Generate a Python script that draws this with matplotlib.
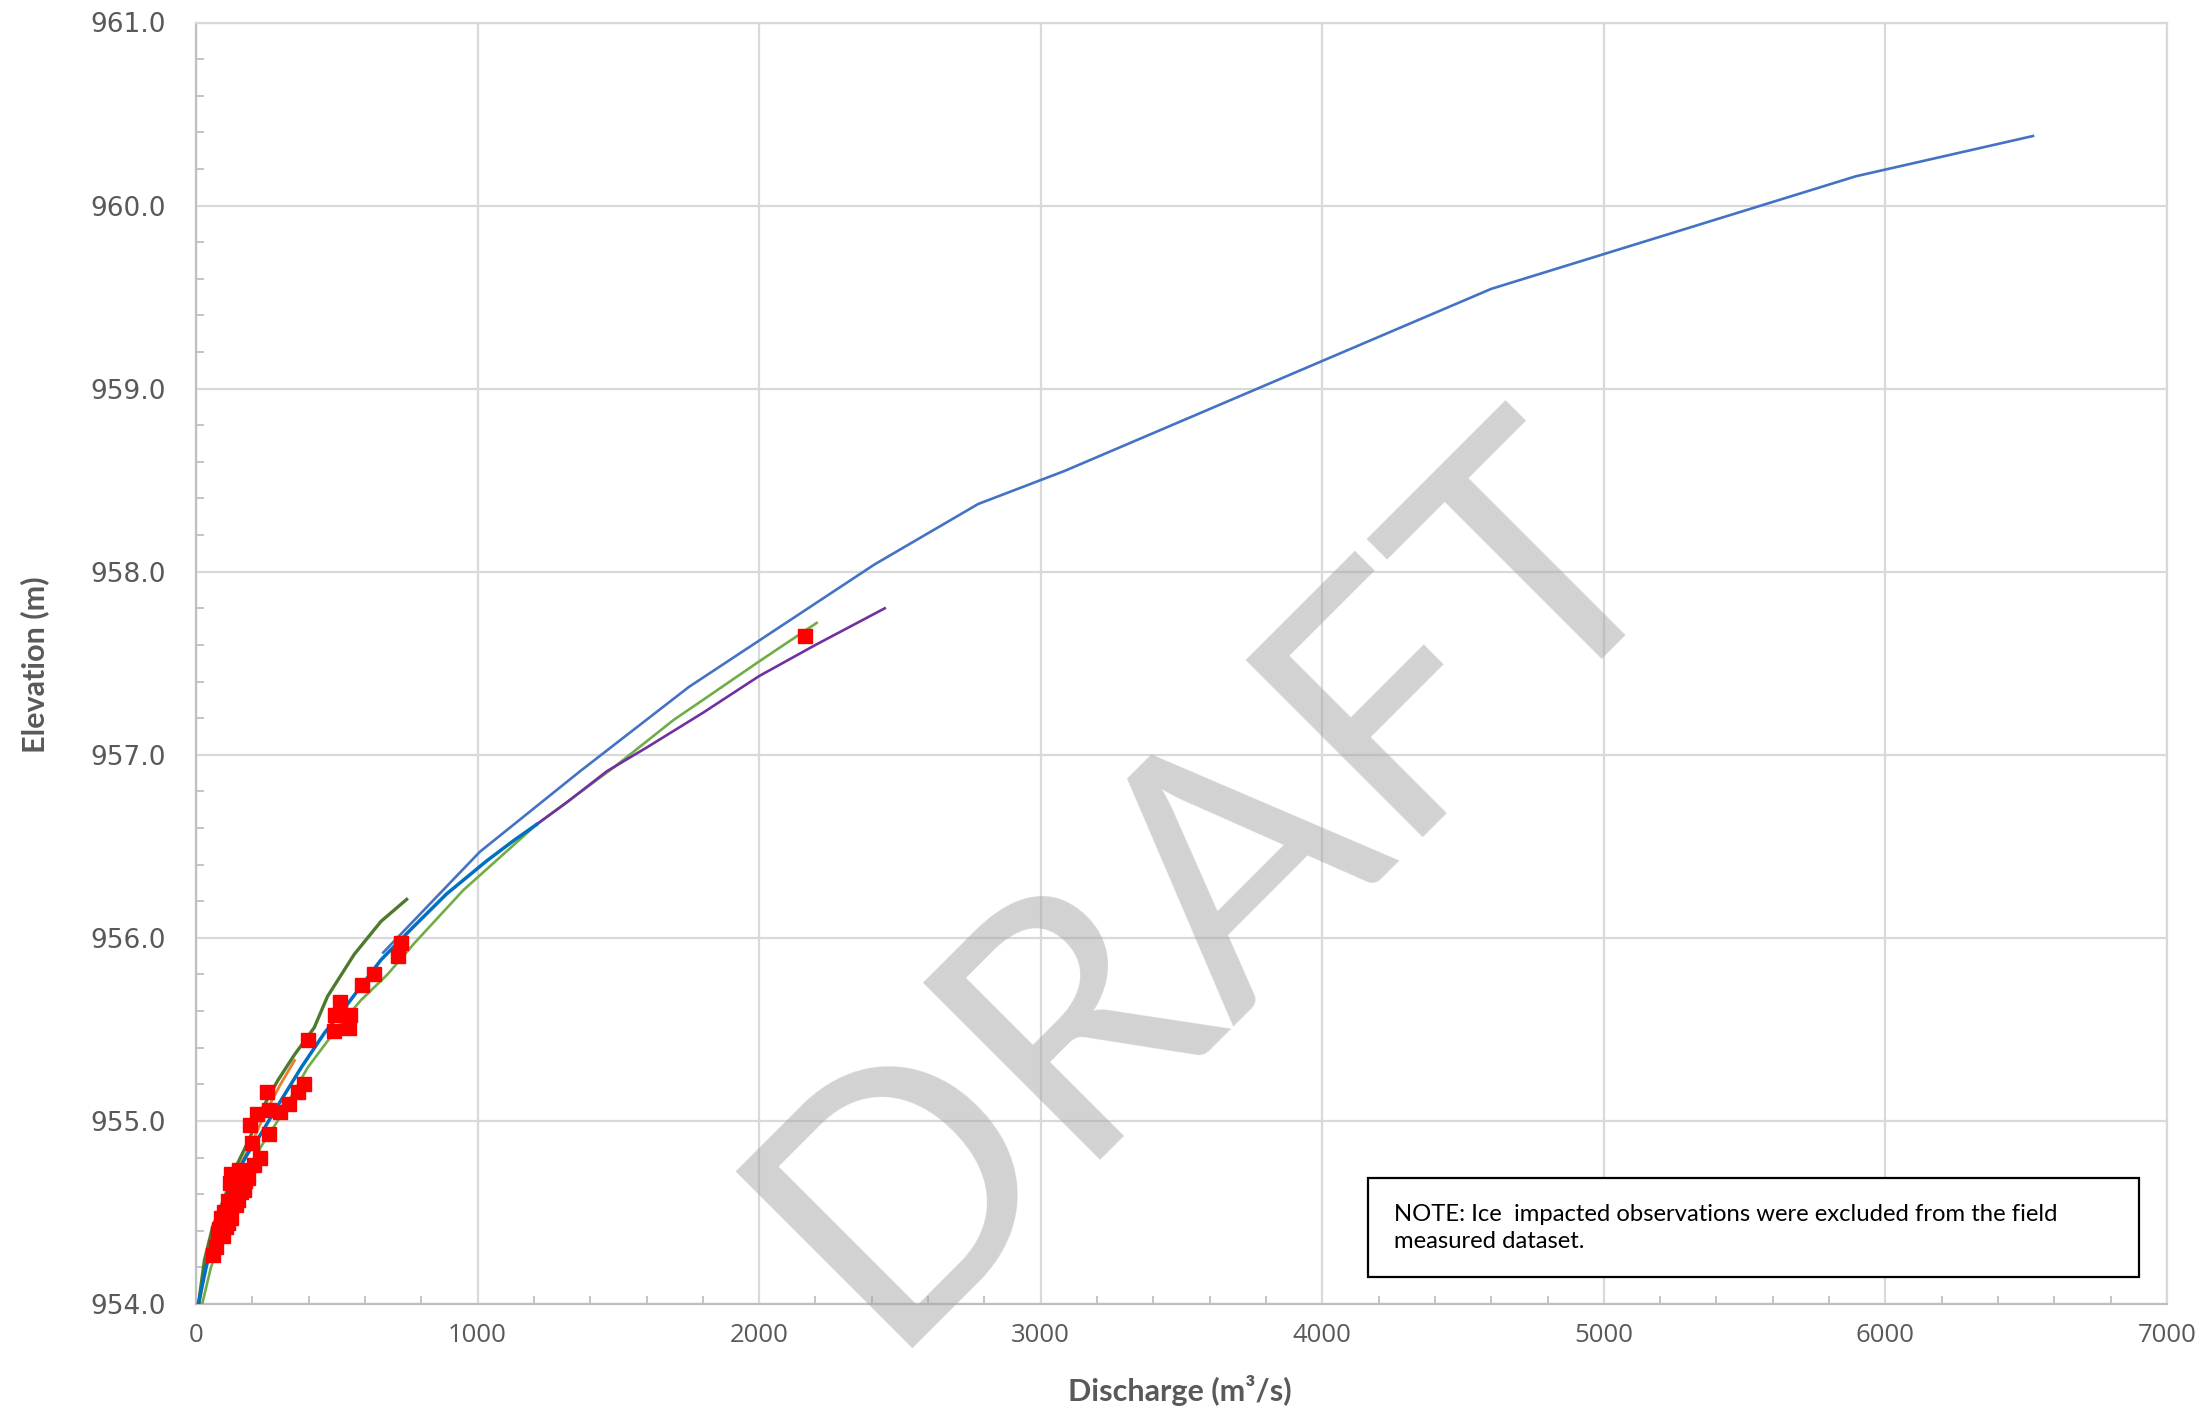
import numpy as np
import matplotlib
matplotlib.use("Agg")
import matplotlib.pyplot as plt
from matplotlib.ticker import AutoMinorLocator
from matplotlib.patches import Rectangle

# ---------------- data ----------------
x_ticks = [0, 1000, 2000, 3000, 4000, 5000, 6000, 7000]
y_ticks = [954.0, 955.0, 956.0, 957.0, 958.0, 959.0, 960.0, 961.0]

# long rating curve (light blue)
curve1_q = [665, 1008, 1364, 1750, 2410, 2778, 3084, 4600, 5895, 6524]
curve1_e = [955.92, 956.47, 956.91, 957.37, 958.04, 958.37, 958.55, 959.545, 960.16, 960.38]

# dark blue curve
curve2_q = [8, 36, 65, 101, 136, 183, 231, 285, 373, 456, 539, 657, 772, 890, 1032, 1127, 1210]
curve2_e = [954.0, 954.20, 954.38, 954.56, 954.69, 954.82, 954.93, 955.07, 955.29, 955.48,
            955.64, 955.88, 956.06, 956.24, 956.42, 956.53, 956.62]

# purple curve
curve3_q = [1210, 1317, 1459, 1601, 1801, 2000, 2200, 2446]
curve3_e = [956.62, 956.74, 956.91, 957.04, 957.23, 957.43, 957.60, 957.80]

# light green curve
curve4_q = [22, 53, 95, 136, 183, 231, 290, 396, 503, 586, 680, 775, 949, 1210, 1483, 1696, 1801, 2000, 2204]
curve4_e = [954.0, 954.2, 954.38, 954.56, 954.71, 954.86, 955.0, 955.29, 955.51, 955.66, 955.80,
            955.97, 956.26, 956.62, 956.93, 957.19, 957.30, 957.51, 957.72]

# orange curve (mostly hidden)
curve5_q = [12, 33, 63, 106, 150, 195, 245, 300, 350]
curve5_e = [954.0, 954.2, 954.4, 954.58, 954.74, 954.87, 955.04, 955.20, 955.33]

# dark green curve
curve6_q = [10, 15, 30, 59, 101, 142, 183, 240, 290, 349, 420, 467, 562, 657, 748]
curve6_e = [954.0, 954.07, 954.24, 954.42, 954.58, 954.75, 954.88, 955.08, 955.22, 955.36,
            955.51, 955.68, 955.91, 956.09, 956.21]

# field measurements (red squares)
obs_q = [728, 718, 633, 589, 511, 494, 547, 489, 542, 399, 382, 361, 329, 298, 260, 252,
         217, 192, 258, 199, 227, 207, 184, 124, 154, 160, 136, 142, 113, 107, 89, 113,
         77, 95, 71, 59, 120, 145, 175, 170, 150, 100, 125, 105, 82, 2163]
obs_e = [955.97, 955.90, 955.80, 955.74, 955.65, 955.58, 955.58, 955.49, 955.51, 955.44,
         955.20, 955.16, 955.09, 955.05, 955.06, 955.16, 955.04, 954.98, 954.93, 954.88,
         954.80, 954.76, 954.69, 954.71, 954.73, 954.61, 954.59, 954.54, 954.56, 954.49,
         954.47, 954.44, 954.39, 954.37, 954.31, 954.27, 954.66, 954.70, 954.67, 954.62,
         954.57, 954.50, 954.47, 954.42, 954.41, 957.65]

note_text = "NOTE: Ice  impacted observations were excluded from the field\nmeasured dataset."

# ---------------- figure ----------------
W, H = 2210, 1413
fig = plt.figure(figsize=(W / 100, H / 100), dpi=100)
ax = fig.add_axes([196 / W, 1 - 1304 / H, 1971 / W, 1281.5 / H])

ax.set_xlim(0, 7000)
ax.set_ylim(954, 961)
ax.set_xticks(x_ticks)
ax.set_xticklabels([str(v) for v in x_ticks])
ax.set_yticks(y_ticks)
ax.set_yticklabels([f"{v:.1f}" for v in y_ticks])
ax.xaxis.set_minor_locator(AutoMinorLocator(5))
ax.yaxis.set_minor_locator(AutoMinorLocator(5))

ax.grid(which="major", color="#D9D9D9", lw=1.6, zorder=0)
ax.set_axisbelow(True)
ax.tick_params(which="major", length=0)
ax.tick_params(axis="y", which="major", pad=22, labelsize=19, labelcolor="#595959")
ax.tick_params(axis="x", which="major", pad=14, labelsize=18.5, labelcolor="#595959")
ax.tick_params(which="minor", direction="in", length=6, width=1.3, color="#BFBFBF")
for lab in ax.get_yticklabels():
    lab.set_family("DejaVu Sans")
for lab in ax.get_xticklabels():
    lab.set_family("Open Sans")

for s in ["left", "bottom"]:
    ax.spines[s].set_color("#BFBFBF")
    ax.spines[s].set_linewidth(1.6)
for s in ["top", "right"]:
    ax.spines[s].set_color("#D9D9D9")
    ax.spines[s].set_linewidth(1.6)

# curves
ax.plot(curve5_q, curve5_e, color="#ED7D31", lw=2.0, zorder=3)
ax.plot(curve6_q, curve6_e, color="#4E7A2E", lw=2.4, zorder=4)
ax.plot(curve4_q, curve4_e, color="#70AD47", lw=1.9, zorder=4)
ax.plot(curve3_q, curve3_e, color="#7030A0", lw=1.9, zorder=4)
ax.plot(curve2_q, curve2_e, color="#0070C0", lw=2.5, zorder=5)
ax.plot(curve1_q, curve1_e, color="#4472C4", lw=1.9, zorder=5)
ax.plot(obs_q, obs_e, linestyle="none", marker="s", markersize=9.5,
        color="#FF0000", zorder=6)

# axis titles
ax.set_xlabel("Discharge (m³/s)", fontsize=22, fontweight="bold", color="#595959",
              family=["Lato", "DejaVu Sans"], va="center")
ax.xaxis.set_label_coords((1180 - 196) / 1971, (1304 - 1391) / 1281.5)
ax.set_ylabel("Elevation (m)", fontsize=22, fontweight="bold", color="#595959",
              family="Lato", va="center")
ax.yaxis.set_label_coords((35 - 196) / 1971, (1304 - 665) / 1281.5)

# note box
fig.add_artist(Rectangle((1368 / W, 1 - 1277 / H), (2139 - 1368) / W, 99 / H,
                         transform=fig.transFigure, facecolor="white",
                         edgecolor="black", lw=1.6, zorder=10))
fig.text(1394 / W, 1 - 1228 / H, note_text, fontsize=17.2, family="Lato",
         color="black", ha="left", va="center", linespacing=1.3, zorder=11)

# watermark
fig.text(1279 / W, 1 - 950 / H, "DRAFT", fontsize=252, family="Lato",
         color="#A6A6A6", alpha=0.5, rotation=45, rotation_mode="anchor",
         ha="center", va="baseline", zorder=12)

fig.savefig("out.png", dpi=100)
